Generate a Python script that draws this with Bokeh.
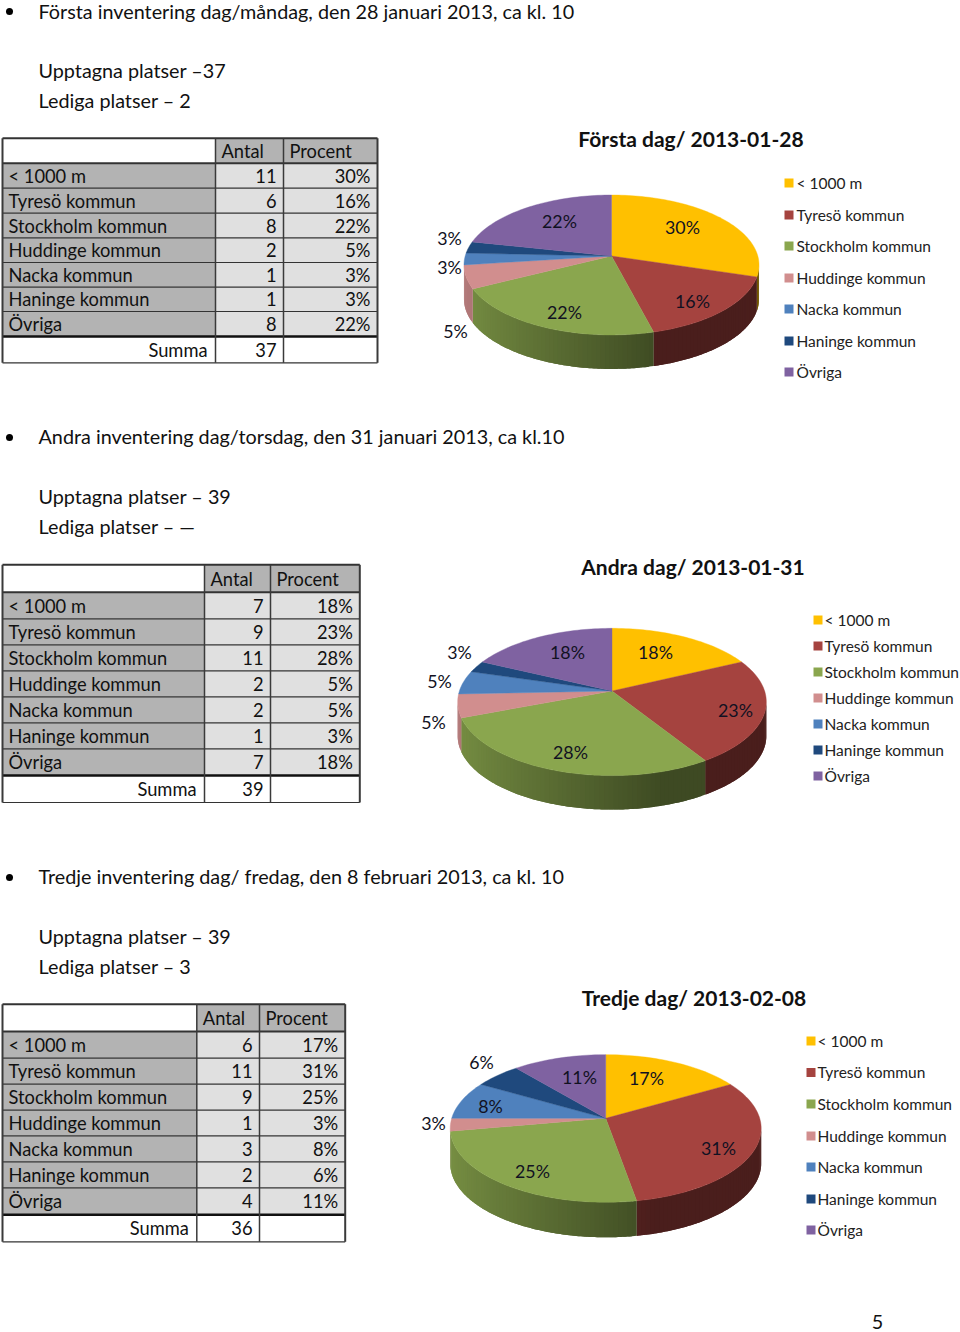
import math
from bokeh.plotting import figure
from bokeh.models import Range1d
from bokeh.core.properties import value
from bokeh.embed import file_html
from bokeh.resources import INLINE

categories = ["< 1000 m", "Tyresö kommun", "Stockholm kommun", "Huddinge kommun",
              "Nacka kommun", "Haninge kommun", "Övriga"]
antal_1 = [11, 6, 8, 2, 1, 1, 8]
antal_2 = [7, 9, 11, 2, 2, 1, 7]
antal_3 = [6, 11, 9, 1, 3, 2, 4]
procent_1 = [30, 16, 22, 5, 3, 3, 22]
procent_2 = [18, 23, 28, 5, 5, 3, 18]
procent_3 = [17, 31, 25, 3, 8, 6, 11]
summa_1, summa_2, summa_3 = 37, 39, 36
colors = ["#ffc000", "#a5433f", "#8aa64e", "#d18e8e", "#4f81bd", "#1f497d", "#7f62a1"]

FONT = value("Lato")
BODY = "19.8px"
CELL = "18.3px"
p = figure(width=960, height=1332, x_range=Range1d(0, 960), y_range=Range1d(1332, 0),
           output_backend="svg", toolbar_location=None, min_border=0, outline_line_color=None)
p.xaxis.visible = False
p.yaxis.visible = False
p.grid.visible = False


def txt(x, y, s, size=BODY, align="left", weight="normal", color="#111111"):
    p.text([x], [y], text=[s], text_font=FONT, text_font_size=size, text_align=align,
           text_baseline="middle", text_font_style=weight, text_color=color)


def table(vals, pcts, total, xs, ys):
    x0, x1, x2, x3 = xs
    p.quad(left=[x1, x2], right=[x2, x3], top=[ys[0]] * 2, bottom=[ys[1]] * 2,
           fill_color="#b3b3b3", line_color=None)
    for i in range(7):
        t, b = ys[i + 1], ys[i + 2]
        p.quad(left=[x0], right=[x1], top=[t], bottom=[b], fill_color="#b3b3b3", line_color=None)
        p.quad(left=[x1, x2], right=[x2, x3], top=[t, t], bottom=[b, b],
               fill_color="#e0e0e0", line_color=None)
    for i, y in enumerate(ys):
        w = 2.6 if i == 8 else 2 if i in (0, 1) else 1.2
        c = "#111111" if i == 8 else "#333333"
        p.line([x0, x3], [y, y], line_color=c, line_width=w)
    for x in xs:
        w = 2 if x in (x0, x3) else 1.5
        p.line([x, x], [ys[0], ys[-1]], line_color="#3a3a3a", line_width=w)
    ym = [(ys[i] + ys[i + 1]) / 2 for i in range(9)]
    txt(x1 + 6, ym[0], "Antal", size=CELL)
    txt(x2 + 6, ym[0], "Procent", size=CELL)
    for i in range(7):
        txt(x0 + 6, ym[i + 1], categories[i], size=CELL)
        txt(x2 - 7, ym[i + 1], str(vals[i]), align="right", size=CELL)
        txt(x3 - 7, ym[i + 1], f"{pcts[i]}%", align="right", size=CELL)
    txt(x1 - 8, ym[8], "Summa", align="right", size=CELL)
    txt(x2 - 7, ym[8], str(total), align="right", size=CELL)


def shade(hex_color, f):
    r, g, b = (int(hex_color[i:i + 2], 16) for i in (1, 3, 5))
    return "#%02x%02x%02x" % (int(r * f), int(g * f), int(b * f))


def pie3d(vals, pcts, cx, cy, R, H, k, depth, label_pos):
    def pt(t):
        d = 1 + k * math.cos(t)
        return cx + R * math.sin(t) / d, cy - H * math.cos(t) / d

    total = sum(vals)
    edges = [0.0]
    for v in vals:
        edges.append(edges[-1] + v / total * 2 * math.pi)
    start = math.acos(-k)
    end = 2 * math.pi - start
    # side wall: each strip overlaps its neighbour, so no seams show
    for i, col in enumerate(colors):
        a0, a1 = max(edges[i], start), min(edges[i + 1], end)
        if a1 <= a0:
            continue
        n = max(1, int(math.degrees(a1 - a0) / 1.5))
        xs, ys, cs = [], [], []
        for j in range(n):
            t0 = a0 + (a1 - a0) * j / n
            t1 = min(a1, a0 + (a1 - a0) * (j + 2) / n)
            seg = [pt(t0 + (t1 - t0) * s / 4) for s in range(5)]
            xs.append([q[0] for q in seg] + [q[0] for q in reversed(seg)])
            ys.append([q[1] for q in seg] + [q[1] + depth for q in reversed(seg)])
            u = math.sin(t0)
            f = 0.87 - (u + 1) / 1.3 * 0.42
            cs.append(shade(col, max(0.45, min(0.87, f))))
        p.patches(xs, ys, fill_color=cs, line_color=None)
    # top face
    for i, col in enumerate(colors):
        n = max(2, int(math.degrees(edges[i + 1] - edges[i]) / 1.5))
        pts = [pt(edges[i] + (edges[i + 1] - edges[i]) * j / n) for j in range(n + 1)]
        p.patch([cx] + [q[0] for q in pts], [cy] + [q[1] for q in pts],
                fill_color=col, line_color=col, line_width=0.4)
    # data labels
    for pct, (lx, ly) in zip(pcts, label_pos):
        txt(lx, ly - 1.5, f"{pct}%", size="17.8px", align="center", color="#111122")


def legend(mx, tx, ys):
    for col, name, y in zip(colors, categories, ys):
        p.quad(left=[mx], right=[mx + 9], top=[y - 4.5], bottom=[y + 4.5],
               fill_color=col, line_color=None)
        txt(tx - 1, y - 1.5 + 1, name, size="15.5px", color="#222222")


def bullet(y):
    p.scatter([9], [y - 1], size=7, marker="circle", fill_color="#000000", line_color=None)


# section 1
bullet(12)
txt(38, 10.5, "Första inventering dag/måndag, den 28 januari 2013, ca kl. 10")
txt(38, 69, "Upptagna platser –37")
txt(38, 99, "Lediga platser – 2")
table(antal_1, procent_1, summa_1, [2, 215, 283, 377],
      [137.7, 162.7, 187.7, 212.7, 237.3, 262, 286.7, 311, 336, 362.3])
pie3d(antal_1, procent_1, 611, 255.5, 146.3, 68.8, 0.1286, 34,
      [(682, 228), (692, 302), (564, 313), (455, 332), (449, 268), (449, 239), (559, 222)])
txt(690.5, 138, "Första dag/ 2013-01-28", size="21px", align="center", weight="bold")
legend(784, 797, [182.5, 214.5, 245.5, 277.5, 308.5, 340.5, 371.5])

# section 2
bullet(438)
txt(38, 435, "Andra inventering dag/torsdag, den 31 januari 2013, ca kl.10")
txt(38, 495, "Upptagna platser – 39")
txt(38, 525, "Lediga platser – —")
table(antal_2, procent_2, summa_2, [2, 204, 270, 359.3],
      [564.3, 591.7, 618.3, 644.3, 670.3, 696.3, 722.3, 748.3, 775, 802])
pie3d(antal_2, procent_2, 611.5, 690.5, 152.6, 72, 0.149, 34,
      [(655, 653), (735, 711), (570, 753), (433, 723), (439, 682), (459, 653), (567, 653)])
txt(692.5, 566, "Andra dag/ 2013-01-31", size="21px", align="center", weight="bold")
legend(813, 825, [619.5, 645.5, 671.5, 697.5, 723.5, 749.5, 775.5])

# section 3
bullet(878)
txt(38, 875, "Tredje inventering dag/ fredag, den 8 februari 2013, ca kl. 10")
txt(38, 935, "Upptagna platser – 39")
txt(38, 965, "Lediga platser – 3")
table(antal_3, procent_3, summa_3, [2, 196.3, 259, 344.7],
      [1003.7, 1031, 1057.7, 1083.7, 1109.7, 1135.3, 1161.3, 1187.3, 1214.3, 1241.3])
pie3d(antal_3, procent_3, 605.2, 1117.8, 154, 72.4, 0.138, 35,
      [(646, 1079), (718, 1149), (532, 1172), (433, 1124), (490, 1107), (481, 1063), (579, 1078)])
txt(693.5, 997, "Tredje dag/ 2013-02-08", size="21px", align="center", weight="bold")
legend(806, 818, [1040.5, 1072, 1103.5, 1135.5, 1166.5, 1198.5, 1229.5])

txt(877, 1321.5, "5", align="center")

open("out.html", "w").write(file_html(p, INLINE))
